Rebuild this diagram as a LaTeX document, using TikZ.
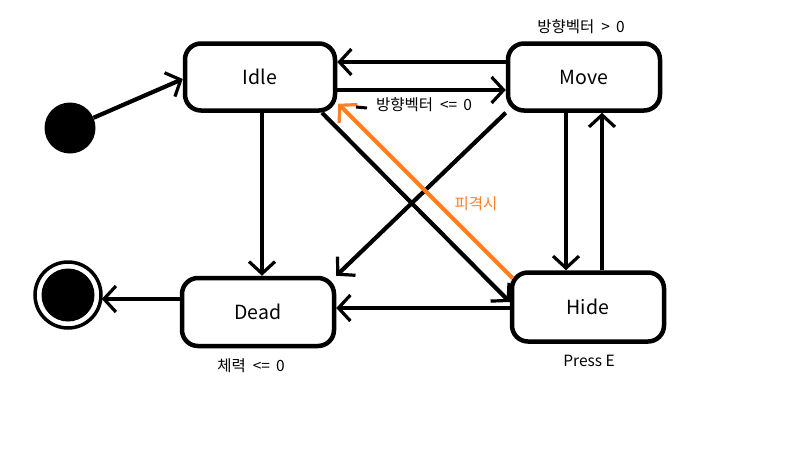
\documentclass[tikz,border=0pt]{standalone}
\usepackage{fontspec}
\setmainfont{Noto Sans CJK KR}
\usetikzlibrary{arrows.meta,calc}
\definecolor{paintorange}{HTML}{FF7F27}
\tikzset{
  statebox/.style={draw, line width=4.5pt, rounded corners=16pt, minimum width=150pt, minimum height=67pt, font=\fontsize{19.5}{22}\selectfont, inner sep=0pt},
  arr/.style={line width=4.2pt, -{Straight Barb[length=12pt,width=26pt,line width=3.2pt]}},
  oarr/.style={line width=4.2pt, draw=paintorange, -{Straight Barb[length=12pt,width=26pt,line width=3.2pt]}},
  lbl/.style={font=\fontsize{15.5}{18}\selectfont, inner sep=0pt},
}
\begin{document}
\begin{tikzpicture}[x=1pt,y=-1pt]
\useasboundingbox[fill=white] (0,0) rectangle (793,458);
\node[statebox] (idle) at (260,77) {Idle};
\node[statebox, minimum width=152pt] (move) at (584,77) {Move};
\node[statebox, minimum width=152pt, minimum height=68pt] (dead) at (258,312) {Dead};
\node[statebox, minimum width=152pt, minimum height=69pt] (hide) at (588,307) {Hide};
\node[circle, fill=black, minimum size=51pt, inner sep=0pt] (init) at (70,128) {};
\node[circle, fill=black, minimum size=53pt, inner sep=0pt] (finalin) at (68,295) {};
\node[circle, draw=black, line width=3.5pt, minimum size=66pt, inner sep=0pt] (final) at (68,295) {};
% connectors
\draw[arr] (init) -- (idle.west |- 0,79);
\draw[arr] (move.west |- 0,62) -- (idle.east |- 0,62);
\draw[arr] (idle.east |- 0,90) -- (move.west |- 0,90);
\draw[arr] (idle.south -| 262,0) -- (dead.north -| 262,0);
\draw[arr] (idle.south -| 322,0) -- (hide.west |- 0,302);
\draw[arr] (move.south west) -- (dead.north east);
\draw[arr] (hide.west |- 0,308) -- (dead.east |- 0,308);
\draw[arr] (move.south -| 566,0) -- (hide.north -| 566,0);
\draw[arr] (hide.north -| 602,0) -- (move.south -| 602,0);
\draw[arr] (dead.west |- 0,299) -- ($(final.east)+(-1,4)$);
\draw[oarr] ($(hide.north west)+(3,8)$) -- ($(idle.south east)+(1,-9)$);
% labels
\node[lbl] (lmove) at (581,27) {방향벡터 \ > \,0};
\node[lbl] (lidle) at (424,105) {방향벡터 \ <= \,0};
\coordinate (dashA) at (356,107);
\coordinate (dashB) at (367,108);
\draw[line width=3pt] (dashA) -- (dashB);
\node[lbl, text=paintorange] (lhit) at (476,204) {피격시};
\node[lbl] (ldead) at (251,366) {체력 \ <= \,0};
\node[lbl] (lhide) at (589,361) {Press E};
\end{tikzpicture}
\end{document}
